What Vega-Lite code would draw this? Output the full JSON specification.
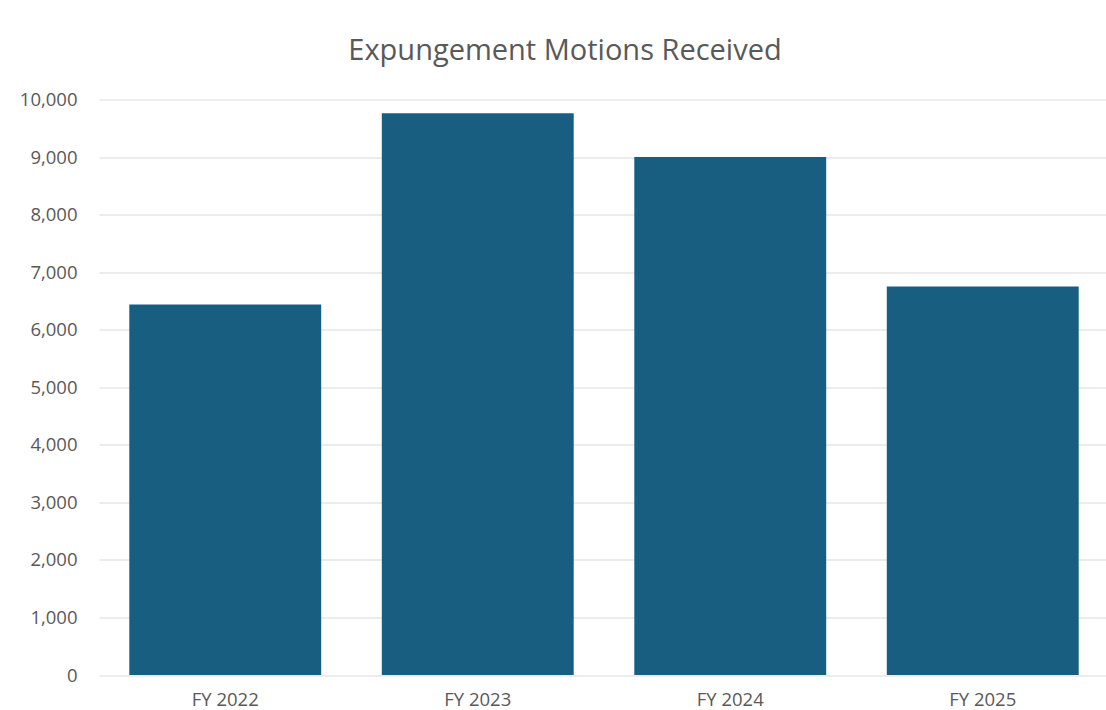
{
  "$schema": "https://vega.github.io/schema/vega-lite/v6.json",
  "autosize": {"type": "none"},
  "width": 1010,
  "height": 575.5,
  "padding": {"left": 99, "top": 99.5, "right": 0, "bottom": 35},
  "background": "white",
  "title": {
    "text": "Expungement Motions Received",
    "anchor": "middle",
    "frame": "group",
    "font": "Open Sans",
    "fontSize": 29,
    "fontWeight": "normal",
    "color": "#595959",
    "dx": -39,
    "offset": 25
  },
  "data": {
    "values": [
      {"year": "FY 2022", "motions": 6440},
      {"year": "FY 2023", "motions": 9760},
      {"year": "FY 2024", "motions": 9000},
      {"year": "FY 2025", "motions": 6750}
    ]
  },
  "mark": {"type": "bar", "color": "#175e80"},
  "encoding": {
    "x": {
      "field": "year",
      "type": "nominal",
      "sort": null,
      "scale": {"paddingInner": 0.24, "paddingOuter": 0.12},
      "axis": {
        "title": null,
        "labelAngle": 0,
        "labelFont": "Open Sans",
        "labelFontSize": 18.5,
        "labelColor": "#595959",
        "labelPadding": 15,
        "ticks": false,
        "domain": false,
        "grid": false
      }
    },
    "y": {
      "field": "motions",
      "type": "quantitative",
      "scale": {"domain": [0, 10000], "nice": false},
      "axis": {
        "title": null,
        "values": [0, 1000, 2000, 3000, 4000, 5000, 6000, 7000, 8000, 9000, 10000],
        "format": ",d",
        "labelFont": "Open Sans",
        "labelFontSize": 18.5,
        "labelColor": "#595959",
        "labelPadding": 22,
        "ticks": false,
        "domain": false,
        "grid": true,
        "gridColor": "#d9d9d9",
        "gridWidth": 1.2
      }
    }
  },
  "config": {"view": {"stroke": null}}
}
